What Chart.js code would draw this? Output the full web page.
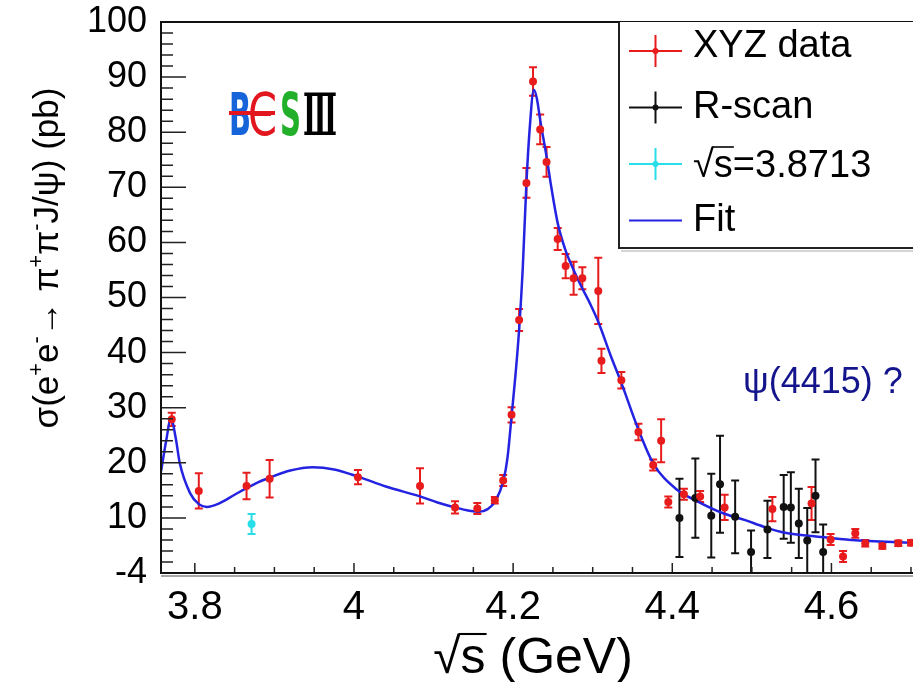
<!DOCTYPE html>
<html>
<head>
<meta charset="utf-8">
<script src="https://cdn.jsdelivr.net/npm/chart.js@4.4.1/dist/chart.umd.min.js"></script>
<style>
  html, body { margin: 0; padding: 0; background: #fff; }
  #chart { display: block; }
</style>
</head>
<body>
<canvas id="chart" width="917" height="682"></canvas>
<script>
// values (GeV, pb)
const xyzEnergy = [3.771, 3.805, 3.865, 3.894, 4.005, 4.083, 4.127, 4.155, 4.177, 4.1875, 4.198, 4.2075,
  4.2167, 4.225, 4.234, 4.242, 4.256, 4.266, 4.276, 4.287, 4.307, 4.311, 4.336, 4.3575, 4.376, 4.386,
  4.395, 4.4146, 4.435, 4.4658, 4.5258, 4.575, 4.599, 4.6146, 4.63, 4.6425, 4.664, 4.684, 4.7];
const xyzSigma = [27.9, 14.9, 15.8, 17.1, 17.4, 15.8, 11.9, 11.7, 13.2, 16.8, 28.7, 45.9,
  70.8, 89.2, 80.5, 74.6, 60.6, 55.7, 53.5, 53.5, 51.2, 38.5, 35.0, 25.6, 19.6, 24.0,
  12.9, 14.3, 13.9, 11.9, 11.6, 12.6, 6.1, 3.0, 7.2, 5.4, 4.9, 5.4, 5.5];
const xyzError = [1.2, 3.2, 2.4, 3.4, 1.3, 3.2, 1.1, 1.0, 0.6, 1.0, 1.4, 2.0,
  2.7, 2.6, 2.7, 2.7, 2.0, 2.2, 3.0, 2.0, 6.0, 2.2, 1.5, 1.5, 1.0, 3.9,
  1.0, 1.0, 1.0, 2.3, 2.2, 3.0, 1.0, 1.0, 0.8, 0.6, 0.5, 0.5, 0.5];

const rscanEnergy = [4.409, 4.429, 4.449, 4.46, 4.479, 4.499, 4.5196, 4.54, 4.549, 4.559, 4.5696, 4.58, 4.5896];
const rscanSigma = [10.0, 13.6, 10.4, 16.1, 10.2, 3.8, 7.9, 12.0, 11.9, 9.0, 5.9, 14.0, 3.8];
const rscanError = [7.1, 7.2, 7.6, 8.8, 6.6, 3.9, 5.2, 5.8, 6.4, 6.3, 5.9, 6.6, 5.0];

const singleEnergy = [3.8713];
const singleSigma = [8.9];
const singleError = [1.8];

const fitEnergy = [3.7575, 3.764, 3.770, 3.776, 3.781, 3.794, 3.805, 3.815, 3.83, 3.85, 3.865, 3.88, 3.894,
  3.92, 3.948, 3.975, 4.005, 4.04, 4.083, 4.105, 4.127, 4.145, 4.157, 4.168, 4.177, 4.1875, 4.193,
  4.198, 4.203, 4.2075, 4.212, 4.2167, 4.221, 4.226, 4.230, 4.234, 4.242, 4.248, 4.256, 4.266, 4.276,
  4.2875, 4.297, 4.307, 4.323, 4.336, 4.3575, 4.376, 4.406, 4.429, 4.4646, 4.4917, 4.515, 4.5417,
  4.5833, 4.625, 4.7025];
const fitSigma = [18.4, 24.0, 28.1, 24.5, 20.0, 14.5, 12.5, 12.0, 12.6, 14.2, 15.4, 16.5, 17.3,
  18.6, 19.2, 18.8, 17.5, 15.7, 13.9, 12.8, 11.9, 11.3, 11.1, 11.6, 12.9, 16.6, 21.0,
  28.4, 36.0, 44.1, 55.0, 70.7, 81.0, 87.7, 86.0, 82.2, 75.6, 70.0, 63.5, 58.5, 55.0,
  51.5, 48.8, 45.6, 39.3, 34.5, 26.0, 19.9, 15.1, 13.2, 10.8, 9.6, 8.4, 7.3,
  6.6, 6.0, 5.5];

const xTickValues = [3.8, 4.0, 4.2, 4.4, 4.6];
const xTickLabels = ["3.8", "4", "4.2", "4.4", "4.6"];
const yTickValues = [0, 10, 20, 30, 40, 50, 60, 70, 80, 90, 100];
const yTickLabels = ["-4", "10", "20", "30", "40", "50", "60", "70", "80", "90", "100"];
const seriesLabels = ["XYZ data", "R-scan", "\u221As=3.8713", "Fit"];

const RED = "rgb(232,28,28)";
const BLACK = "#111";
const CYAN = "rgb(40,222,232)";
const BLUE = "rgb(35,35,225)";
const FONT = "'Liberation Sans', Arial, Helvetica, sans-serif";

function toPoints(xs, ys) {
  return xs.map((x, i) => ({ x: x, y: ys[i] }));
}

// vertical error bars with small caps, ROOT style
const errorBars = {
  id: "errorBars",
  beforeDatasetsDraw(chart) {
    const { ctx, chartArea: a, scales: { x, y } } = chart;
    ctx.save();
    ctx.beginPath();
    ctx.rect(a.left, a.top, a.right - a.left, a.bottom - a.top);
    ctx.clip();
    chart.data.datasets.forEach((ds) => {
      if (!ds.errors) return;
      ctx.strokeStyle = ds.borderColor;
      ctx.lineWidth = 2;
      ds.data.forEach((p, i) => {
        const px = x.getPixelForValue(p.x);
        const top = y.getPixelForValue(p.y + ds.errors[i]);
        const bot = y.getPixelForValue(p.y - ds.errors[i]);
        ctx.beginPath();
        ctx.moveTo(px, top);
        ctx.lineTo(px, bot);
        ctx.moveTo(px - 4, top);
        ctx.lineTo(px + 4, top);
        ctx.moveTo(px - 4, bot);
        ctx.lineTo(px + 4, bot);
        ctx.stroke();
      });
    });
    ctx.restore();
  },
};

// frame + inward ticks
const rootFrame = {
  id: "rootFrame",
  afterDatasetsDraw(chart) {
    const { ctx, chartArea: a, scales: { x, y } } = chart;
    ctx.save();
    ctx.strokeStyle = "#222";
    ctx.lineWidth = 1.5;
    ctx.beginPath();
    for (let v = 2; v < 100; v += 2) {
      const py = y.getPixelForValue(v);
      const len = v % 10 === 0 ? 25 : 12;
      ctx.moveTo(a.left, py);
      ctx.lineTo(a.left + len, py);
    }
    for (let k = 0; ; k++) {
      const v = 3.8 + k * 0.05;
      if (v > x.max) break;
      const px = x.getPixelForValue(v);
      const len = k % 4 === 0 ? 10 : 6;
      ctx.moveTo(px, a.bottom);
      ctx.lineTo(px, a.bottom - len);
    }
    ctx.stroke();

    ctx.strokeStyle = "#111";
    ctx.lineWidth = 2;
    ctx.beginPath();
    ctx.moveTo(a.right, a.top);
    ctx.lineTo(a.left, a.top);
    ctx.lineTo(a.left, a.bottom);
    ctx.lineTo(a.right, a.bottom);
    ctx.stroke();
    ctx.strokeStyle = "#888";
    ctx.lineWidth = 1.5;
    ctx.beginPath();
    ctx.moveTo(a.left, a.bottom + 3);
    ctx.lineTo(a.right, a.bottom + 3);
    ctx.stroke();
    ctx.restore();
  },
};

function drawRich(ctx, parts, x, y, size) {
  const widths = parts.map(([t, k]) => {
    ctx.font = (k ? size * 0.62 : size) + "px " + FONT;
    return ctx.measureText(t).width;
  });
  const total = widths.reduce((s, w) => s + w, 0);
  let cx = x - total / 2;
  parts.forEach(([t, k], i) => {
    ctx.font = (k ? size * 0.62 : size) + "px " + FONT;
    ctx.fillText(t, cx, k === "sup" ? y - size * 0.42 : y);
    cx += widths[i];
  });
}

// draws "√s..." with the bar over the s
function drawRoot(ctx, text, x, y, size, align) {
  ctx.font = size + "px " + FONT;
  const full = ctx.measureText(text).width;
  const start = align === "center" ? x - full / 2 : x;
  ctx.textAlign = "left";
  ctx.fillText(text, start, y);
  const rad = ctx.measureText("\u221A");
  const radS = ctx.measureText("\u221As").width;
  const top = y - rad.actualBoundingBoxAscent + 1;
  ctx.beginPath();
  ctx.moveTo(start + rad.width - 2, top);
  ctx.lineTo(start + radS + 1, top);
  ctx.lineWidth = Math.max(1.5, size / 24);
  ctx.strokeStyle = ctx.fillStyle;
  ctx.stroke();
}

const textLayer = {
  id: "textLayer",
  afterDraw(chart) {
    const { ctx, chartArea: a } = chart;
    ctx.save();
    ctx.textAlign = "left";
    ctx.textBaseline = "alphabetic";
    ctx.fillStyle = "#000";

    // y axis title
    ctx.save();
    ctx.translate(58, 258);
    ctx.rotate(-Math.PI / 2);
    drawRich(ctx, [["\u03C3(e", null], ["+", "sup"], ["e", null], ["-", "sup"], ["\u2192 \u03C0", null],
      ["+", "sup"], ["\u03C0", null], ["-", "sup"], ["J/\u03C8) (pb)", null]], 0, 0, 35);
    ctx.restore();

    // x axis title
    drawRoot(ctx, "\u221As (GeV)", 533, 673, 50, "center");

    // legend
    const boxLeft = 619, boxBottom = 248;
    ctx.fillStyle = "#fff";
    ctx.fillRect(boxLeft, a.top, a.right - boxLeft, boxBottom - a.top);
    ctx.strokeStyle = "#222";
    ctx.lineWidth = 2;
    ctx.beginPath();
    ctx.moveTo(boxLeft, a.top);
    ctx.lineTo(boxLeft, boxBottom);
    ctx.lineTo(a.right, boxBottom);
    ctx.stroke();
    ctx.strokeStyle = "#aaa";
    ctx.lineWidth = 1;
    ctx.beginPath();
    ctx.moveTo(boxLeft + 2, boxBottom + 3);
    ctx.lineTo(a.right, boxBottom + 3);
    ctx.stroke();

    const colors = [RED, BLACK, CYAN, BLUE];
    seriesLabels.forEach((label, i) => {
      const ry = 51 + i * 56.5;
      const mx = 655.5;
      ctx.strokeStyle = colors[i];
      ctx.lineWidth = 2;
      ctx.beginPath();
      ctx.moveTo(629, ry);
      ctx.lineTo(682, ry);
      if (i < 3) {
        ctx.moveTo(mx, ry - 16);
        ctx.lineTo(mx, ry + 16);
      }
      ctx.stroke();
      if (i < 3) {
        ctx.fillStyle = colors[i];
        ctx.beginPath();
        ctx.arc(mx, ry, 3, 0, Math.PI * 2);
        ctx.fill();
      }
      ctx.fillStyle = "#000";
      if (i === 2) {
        drawRoot(ctx, label, 693, ry + 13, 38, "left");
      } else {
        ctx.textBaseline = "middle";
        ctx.font = "38px " + FONT;
        ctx.fillText(label, 693, ry - (i === 0 ? 4 : 0));
        ctx.textBaseline = "alphabetic";
      }
    });

    // annotation
    ctx.fillStyle = "rgb(20,20,140)";
    ctx.font = "36px " + FONT;
    ctx.fillText("\u03C8(4415) ?", 743, 393);

    // BESIII logo
    const glyphs = [
      { t: "B", c: "rgb(22,100,218)", x: 229, w: 22, f: "bold 58px 'DejaVu Sans'" },
      { t: "\u0404", c: "rgb(226,22,30)", x: 248, w: 29, f: "58px 'DejaVu Sans'" },
      { t: "S", c: "rgb(34,176,42)", x: 280, w: 21, f: "bold 58px 'DejaVu Sans'" },
      { t: "\u2162", c: "#000", x: 303, w: 34, f: "bold 58px 'DejaVu Serif'" },
    ];
    glyphs.forEach((g) => {
      ctx.font = g.f;
      const m = ctx.measureText(g.t).width;
      ctx.save();
      ctx.translate(g.x, 135);
      ctx.scale(g.w / m, 1);
      ctx.fillStyle = g.c;
      ctx.fillText(g.t, 0, 0);
      ctx.restore();
    });
    ctx.fillStyle = "rgb(226,22,30)";
    ctx.fillRect(229, 111, 46, 4);

    ctx.restore();
  },
};

var ctx = document.getElementById("chart").getContext("2d");
var chart = new Chart(ctx, {
  type: "scatter",
  data: {
    datasets: [
      {
        label: seriesLabels[0],
        data: toPoints(xyzEnergy, xyzSigma),
        errors: xyzError,
        borderColor: RED,
        backgroundColor: RED,
        pointRadius: 4,
        pointBorderWidth: 0,
      },
      {
        label: seriesLabels[1],
        data: toPoints(rscanEnergy, rscanSigma),
        errors: rscanError,
        borderColor: BLACK,
        backgroundColor: BLACK,
        pointRadius: 4,
        pointBorderWidth: 0,
      },
      {
        label: seriesLabels[2],
        data: toPoints(singleEnergy, singleSigma),
        errors: singleError,
        borderColor: CYAN,
        backgroundColor: CYAN,
        pointRadius: 4,
        pointBorderWidth: 0,
      },
      {
        label: seriesLabels[3],
        data: toPoints(fitEnergy, fitSigma),
        showLine: true,
        cubicInterpolationMode: "monotone",
        borderColor: BLUE,
        borderWidth: 2.5,
        pointRadius: 0,
        fill: false,
      },
    ],
  },
  options: {
    responsive: false,
    animation: false,
    devicePixelRatio: 1,
    layout: { padding: 0 },
    plugins: {
      legend: { display: false },
      tooltip: { enabled: false },
    },
    scales: {
      x: {
        type: "linear",
        min: 3.7575,
        max: 4.7025,
        grid: { display: false, drawTicks: false },
        border: { display: false },
        afterBuildTicks: (scale) => {
          scale.ticks = xTickValues.map((v) => ({ value: v }));
        },
        afterFit: (scale) => {
          scale.height = 109;
          scale.paddingLeft = 0;
          scale.paddingRight = 0;
        },
        ticks: {
          maxRotation: 0,
          autoSkip: false,
          padding: 11,
          color: "#000",
          font: { size: 40, family: FONT, lineHeight: 1.2 },
          callback: (value, index) => xTickLabels[index],
        },
      },
      y: {
        type: "linear",
        min: 0,
        max: 100,
        grid: { display: false, drawTicks: false },
        border: { display: false },
        afterBuildTicks: (scale) => {
          scale.ticks = yTickValues.map((v) => ({ value: v }));
        },
        afterFit: (scale) => {
          scale.width = 161;
          scale.paddingTop = 22;
          scale.paddingBottom = 0;
        },
        ticks: {
          autoSkip: false,
          padding: 14,
          color: "#000",
          font: { size: 36, family: FONT },
          callback: (value, index) => yTickLabels[index],
        },
      },
    },
  },
  plugins: [errorBars, rootFrame, textLayer],
});
</script>
</body>
</html>
